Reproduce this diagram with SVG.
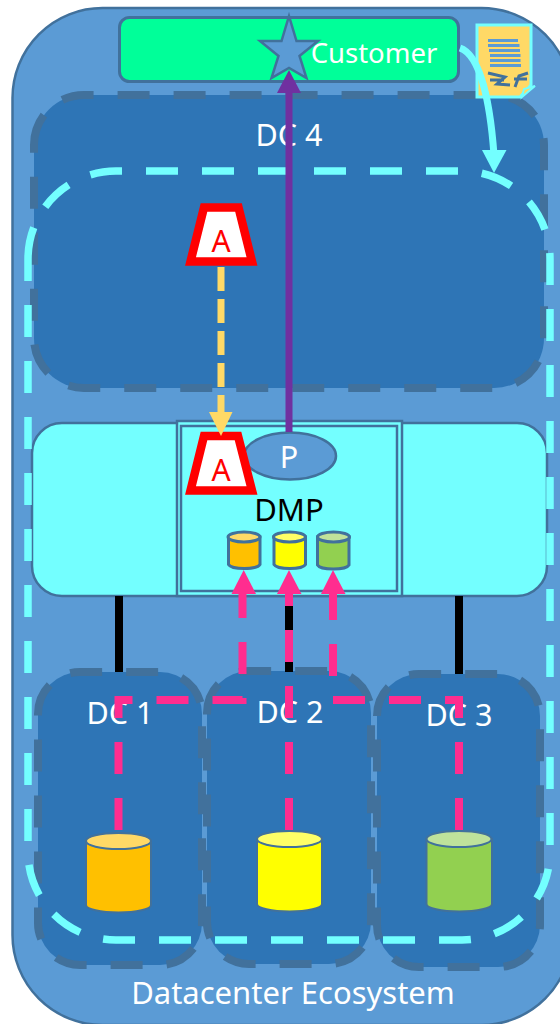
<svg xmlns="http://www.w3.org/2000/svg" width="560" height="1024" viewBox="0 0 560 1024">
<defs>
<style>
text{font-family:"Noto Sans","Open Sans","Liberation Sans",sans-serif;text-anchor:middle}
.w{fill:#fff;font-size:30.500px}
.dc{fill:#2e75b6;stroke:#41719c;stroke-width:8;stroke-dasharray:32 24}
.db{fill:none;stroke:#41719c;stroke-width:2.500}
.trap{fill:#fff;stroke:#f00;stroke-width:8.500}
.a{fill:#f00;font-size:30px}
.pink{fill:none;stroke:#ff2d8f;stroke-width:8;stroke-dasharray:32 24}
.blk{stroke:#000;stroke-width:8}
.cyl{stroke:#41719c;stroke-width:3}
.cylb{stroke:#41719c;stroke-width:2}
</style>
</defs>
<g id="ecosystem">
<rect x="12.500" y="8" width="559" height="1017" rx="90" fill="#5b9bd5" stroke="#41719c" stroke-width="2.500"/>
<text class="w" x="293" y="1004" style="font-size:31px">Datacenter Ecosystem</text>
</g>
<g id="dc4"><path class="dc" d="M34,145A50,50 0 0 1 84,95H494A50,50 0 0 1 544,145V338A50,50 0 0 1 494,388H84A50,50 0 0 1 34,338Z"/><text class="w" x="289" y="146">DC 4</text></g>
<g id="dmp-bar"><rect x="32" y="423" width="515" height="173" rx="30" fill="#73ffff" stroke="#41719c" stroke-width="2.500"/></g>
<g id="dmp">
<rect x="177" y="421" width="225" height="175" fill="#73ffff" stroke="#41719c" stroke-width="2.500"/>
<rect x="181" y="426" width="216" height="165" class="db"/>
<text x="289" y="521" font-size="31" fill="#000">DMP</text>
</g>
<g id="db-small-1"><path class="cyl" fill="#ffc000" d="M228.500,537V564.500A16,5 0 0 0 260,564.500V537Z"/><ellipse class="cyl" cx="244" cy="537" rx="16" ry="5" fill="#ffd966"/></g>
<g id="db-small-2"><path class="cyl" fill="#ff0" d="M274,537V564.500A16,5 0 0 0 305.500,564.500V537Z"/><ellipse class="cyl" cx="289.500" cy="537" rx="16" ry="5" fill="#ff6"/></g>
<g id="db-small-3"><path class="cyl" fill="#92d050" d="M317.500,537V565A16,5 0 0 0 349,565V537Z"/><ellipse class="cyl" cx="333.500" cy="537" rx="16" ry="5" fill="#c0e29a"/></g>
<g id="p"><ellipse cx="290" cy="456" rx="46" ry="23.500" fill="#5b9bd5" stroke="#41719c" stroke-width="2.500"/><text class="w" x="289" y="468">P</text></g>
<g id="dc1"><path class="dc" d="M38,714A42,42 0 0 1 80,672H160A42,42 0 0 1 202,714V923A42,42 0 0 1 160,965H80A42,42 0 0 1 38,923Z"/><text class="w" x="120" y="724">DC 1</text></g>
<g id="dc2"><path class="dc" d="M207,713A42,42 0 0 1 249,671H329A42,42 0 0 1 371,713V922A42,42 0 0 1 329,964H249A42,42 0 0 1 207,922Z"/><text class="w" x="290" y="723">DC 2</text></g>
<g id="dc3"><path class="dc" d="M377,716A42,42 0 0 1 419,674H498A42,42 0 0 1 540,716V925A42,42 0 0 1 498,967H419A42,42 0 0 1 377,925Z"/><text class="w" x="459" y="726">DC 3</text></g>
<g id="db-1"><path class="cylb" fill="#ffc000" d="M86,841V905A32.500,7.500 0 0 0 151,905V841Z"/><ellipse class="cylb" cx="118.500" cy="841" rx="32.500" ry="8" fill="#ffd966"/></g>
<g id="db-2"><path class="cylb" fill="#ff0" d="M257,839V904A32.500,7.500 0 0 0 322,904V839Z"/><ellipse class="cylb" cx="289.500" cy="839" rx="32.500" ry="8" fill="#ff6"/></g>
<g id="db-3"><path class="cylb" fill="#92d050" d="M426.500,839V904A32.500,7.500 0 0 0 492,904V839Z"/><ellipse class="cylb" cx="459" cy="839" rx="32.500" ry="8" fill="#bfe29b"/></g>
<g id="customer">
<rect x="119.500" y="17.500" width="339" height="64" rx="10" fill="#0f9" stroke="#41719c" stroke-width="3"/>
<text class="w" x="374" y="63" style="font-size:27.500px">Customer</text>
</g>
<g id="star"><path d="M289,16L296.500,41L318,41L299.500,56L306.500,78L289,68L271.500,78L278.500,56L260,41L281.500,41Z" fill="#5b9bd5" stroke="#41719c" stroke-width="2.500"/></g>
<g id="doc">
<path d="M477,25H531V85L520,97H477Z" fill="#ffd966" stroke="#73ffff" stroke-width="3"/>
<path d="M522,97L524,89L535,86Z" fill="#ffd966" stroke="#73ffff" stroke-width="2"/>
<path d="M488,40.500H518M488,45.500H519.500M489,50.500H520M490,55.500H520.500M490,60.500H520.500M490,65.500H521" stroke="#5b9bd5" stroke-width="3" fill="none"/>
<path d="M488,73L505,77L497,84L510,85M490,80H504M515,87L519,76L528,73M514,79H527" stroke="#41719c" stroke-width="3" fill="none"/>
</g>
<g id="a-top"><path class="trap" d="M204,207.500H238.500L252,261.500H190.500Z"/><text class="a" x="221" y="252">A</text></g>
<g id="a-bottom"><path class="trap" d="M204,436H238L252,490.500H190.500Z"/><text class="a" x="221" y="481">A</text></g>
<g id="scope"><path fill="none" stroke="#73ffff" stroke-width="7.500" stroke-dasharray="32 24" d="M28,259A88,88 0 0 1 116,171H462A88,88 0 0 1 550,259V852A88,88 0 0 1 462,940H116A88,88 0 0 1 28,852Z"/></g>
<g id="connectors">
<path class="blk" d="M119,596V672M289,596V672M459,596V674"/>
<path d="M221,267V415" fill="none" stroke="#ffd966" stroke-width="7" stroke-dasharray="24 8"/>
<path d="M209,412H232.500L221,436Z" fill="#ffd966"/>
<path d="M289,432V92" fill="none" stroke="#7030a0" stroke-width="7"/>
<path d="M277,93H301L289,70Z" fill="#7030a0"/>
<path class="pink" d="M118.500,830V700H242.500V592"/>
<path class="pink" d="M289,830V592"/>
<path class="pink" d="M459,830V700H333V592"/>
<path d="M231.500,594H256L243.700,570Z" fill="#ff2d8f"/>
<path d="M277,594H301.500L289,570Z" fill="#ff2d8f"/>
<path d="M321,594H345.500L333,570Z" fill="#ff2d8f"/>
<path d="M460,48C480,55 490,100 494,155" fill="none" stroke="#73ffff" stroke-width="7"/>
<path d="M482,150H506.500L494,173Z" fill="#73ffff"/>
</g>
</svg>
